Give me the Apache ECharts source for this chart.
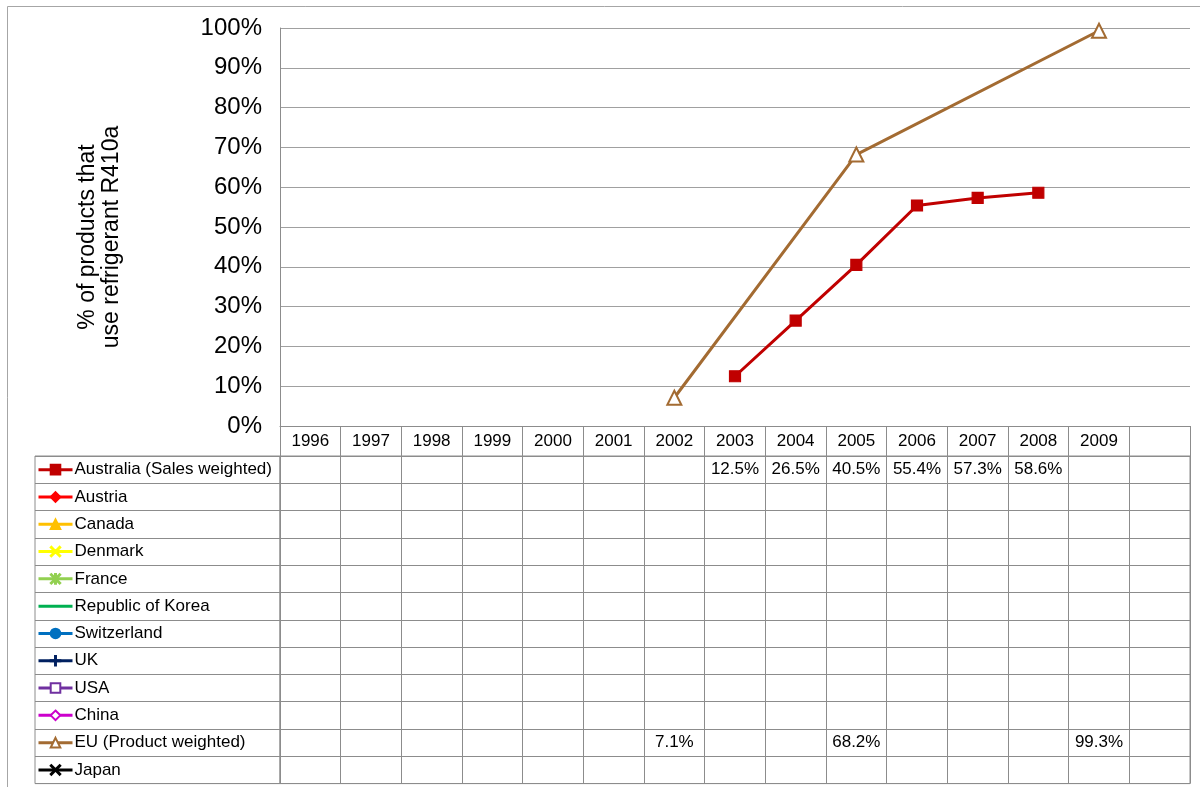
<!DOCTYPE html>
<html>
<head>
<meta charset="utf-8" />
<title>R410a share</title>
<style>
  html, body { margin: 0; padding: 0; background: #fff; }
  #chart { width: 1200px; height: 787px; }
</style>
<script src="https://cdn.jsdelivr.net/npm/echarts@6/dist/echarts.min.js"></script>
</head>
<body>
<div id="chart"></div>
<script>
// years along the x axis (last column is an empty one)
var years = ['1996', '1997', '1998', '1999', '2000', '2001', '2002', '2003', '2004', '2005', '2006', '2007', '2008', '2009', ''];

var seriesNames = ['Australia (Sales weighted)', 'Austria', 'Canada', 'Denmark', 'France',
  'Republic of Korea', 'Switzerland', 'UK', 'USA', 'China', 'EU (Product weighted)', 'Japan'];

// % of products, one value per year (null = no value)
var australiaSales = [null, null, null, null, null, null, null, 12.5, 26.5, 40.5, 55.4, 57.3, 58.6, null, null];
var austria = [];
var canada = [];
var denmark = [];
var france = [];
var korea = [];
var switzerland = [];
var uk = [];
var usa = [];
var china = [];
var euProduct = [null, null, null, null, null, null, 7.1, null, null, 68.2, null, null, null, 99.3, null];
var japan = [];

var yTicks = [0, 10, 20, 30, 40, 50, 60, 70, 80, 90, 100];

var seriesValues = [australiaSales, austria, canada, denmark, france, korea,
  switzerland, uk, usa, china, euProduct, japan];

// marker shapes
var xPath = 'path://M0,0.7L0.7,0L5,4.3L9.3,0L10,0.7L5.7,5L10,9.3L9.3,10L5,5.7L0.7,10L0,9.3L4.3,5Z';
var plusPath = 'path://M4.5,0L5.5,0L5.5,4.5L10,4.5L10,5.5L5.5,5.5L5.5,10L4.5,10L4.5,5.5L0,5.5L0,4.5L4.5,4.5Z';
var starPath = 'path://M0,0.7L0.7,0L5,4.3L9.3,0L10,0.7L5.7,5L10,9.3L9.3,10L5,5.7L0.7,10L0,9.3L4.3,5Z' +
  'M4.5,0L5.5,0L5.5,10L4.5,10Z';

var styles = [
  { color: '#c00000', symbol: 'rect', size: 11 },
  { color: '#ff0000', symbol: 'diamond', size: 10 },
  { color: '#ffc000', symbol: 'triangle', size: 10 },
  { color: '#ffff00', symbol: xPath, size: 9 },
  { color: '#92d050', symbol: starPath, size: 9 },
  { color: '#00b050', symbol: 'none', size: 0 },
  { color: '#0070c0', symbol: 'circle', size: 10 },
  { color: '#002060', symbol: plusPath, size: 10 },
  { color: '#7030a0', symbol: 'emptyRect', size: 10 },
  { color: '#cc00cc', symbol: 'emptyDiamond', size: 10 },
  { color: '#a36b32', symbol: 'emptyTriangle', size: 14 },
  { color: '#000000', symbol: xPath, size: 9 }
];

var FONT = 'Liberation Sans, Arial, sans-serif';
var GRID_LINE = '#a0a0a0';
var TABLE_LINE = '#8c8c8c';

var tableTop = 456, rowH = 27.3;

var lineSeries = seriesNames.map(function (name, i) {
  var st = styles[i];
  return {
    name: name,
    type: 'line',
    xAxisIndex: 0,
    yAxisIndex: 0,
    data: seriesValues[i],
    connectNulls: true,
    symbol: st.symbol,
    symbolSize: st.size,
    showSymbol: true,
    lineStyle: { color: st.color, width: 3 },
    itemStyle: { color: st.color, borderColor: st.color, borderWidth: 1.2 },
    z: 3
  };
});

// table cell values
var cellData = [];
seriesValues.forEach(function (vals, i) {
  vals.forEach(function (v, j) {
    if (v != null) cellData.push([j, i, v]);
  });
});

var legends = seriesNames.map(function (name, i) {
  var item = { name: name };
  if (styles[i].symbol === 'none') item.itemStyle = { color: 'transparent', borderColor: 'transparent' };
  return {
    data: [item],
    left: 37,
    top: tableTop + i * rowH + rowH / 2 - 10,
    orient: 'vertical',
    padding: 0,
    itemGap: 0,
    itemWidth: 34,
    itemHeight: 12,
    selectedMode: false,
    lineStyle: { width: 3 },
    textStyle: { fontSize: 17, color: '#000', fontFamily: FONT, lineHeight: 20, padding: [0, 0, 0, -3] }
  };
});

var option = {
  animation: false,
  backgroundColor: '#fff',
  textStyle: { fontFamily: FONT },
  grid: [
    { left: 280, top: 28, width: 910, height: 398 },
    { left: 280, top: tableTop, width: 910, height: rowH * 12, show: true, borderColor: TABLE_LINE, borderWidth: 1 },
    { left: 35, top: tableTop, width: 245, height: rowH * 12, show: true, borderColor: TABLE_LINE, borderWidth: 1 }
  ],
  legend: legends,
  xAxis: [
    {
      gridIndex: 0, type: 'category', data: years, boundaryGap: true,
      axisLine: { show: true, lineStyle: { color: TABLE_LINE, width: 1 } },
      axisTick: { show: true, interval: 0, length: 30, alignWithLabel: false, lineStyle: { color: TABLE_LINE } },
      axisLabel: { interval: 0, fontSize: 17, color: '#000', fontFamily: FONT, margin: 15, verticalAlign: 'middle' },
      splitLine: { show: false }
    },
    {
      gridIndex: 1, type: 'category', data: years, boundaryGap: true,
      axisLine: { show: false }, axisTick: { show: false }, axisLabel: { show: false },
      splitLine: { show: true, interval: 0, lineStyle: { color: TABLE_LINE, width: 1 } }
    },
    { gridIndex: 2, type: 'value', show: false }
  ],
  yAxis: [
    {
      gridIndex: 0, type: 'value', min: yTicks[0], max: yTicks[yTicks.length - 1], interval: 10,
      axisLine: { show: true, lineStyle: { color: TABLE_LINE, width: 1 } },
      axisTick: { show: false },
      axisLabel: { formatter: '{value}%', fontSize: 24, color: '#000', fontFamily: FONT, margin: 18 },
      splitLine: { show: true, lineStyle: { color: GRID_LINE, width: 1 } }
    },
    {
      gridIndex: 1, type: 'category', data: seriesNames, inverse: true, boundaryGap: true,
      axisLine: { show: false }, axisTick: { show: false }, axisLabel: { show: false },
      splitLine: { show: true, interval: 0, lineStyle: { color: TABLE_LINE, width: 1 } }
    },
    {
      gridIndex: 2, type: 'category', data: seriesNames, inverse: true, boundaryGap: true,
      axisLine: { show: false }, axisTick: { show: false }, axisLabel: { show: false },
      splitLine: { show: true, interval: 0, lineStyle: { color: TABLE_LINE, width: 1 } }
    }
  ],
  series: lineSeries.concat([{
    type: 'scatter',
    xAxisIndex: 1,
    yAxisIndex: 1,
    data: cellData,
    symbolSize: 1,
    itemStyle: { color: '#fff' },
    silent: true,
    z: 5,
    label: {
      show: true,
      position: 'inside',
      fontSize: 17,
      color: '#000',
      opacity: 1,
      textBorderWidth: 0,
      fontFamily: FONT,
      formatter: function (p) { return p.value[2].toFixed(1) + '%'; }
    }
  }]),
  graphic: [
    {
      type: 'rect', silent: true, z: -1,
      shape: { x: 7.5, y: 6.5, width: 1210, height: 800 },
      style: { fill: 'none', stroke: '#a6a6a6', lineWidth: 1 }
    },
    {
      type: 'text', silent: true,
      x: 100, y: 237, rotation: Math.PI / 2,
      style: {
        text: '% of products that\nuse refrigerant R410a',
        font: '23px ' + FONT, fill: '#000',
        align: 'center', verticalAlign: 'middle', lineHeight: 24
      }
    }
  ]
};

var chart = echarts.init(document.getElementById('chart'));
chart.setOption(option);
</script>
</body>
</html>
